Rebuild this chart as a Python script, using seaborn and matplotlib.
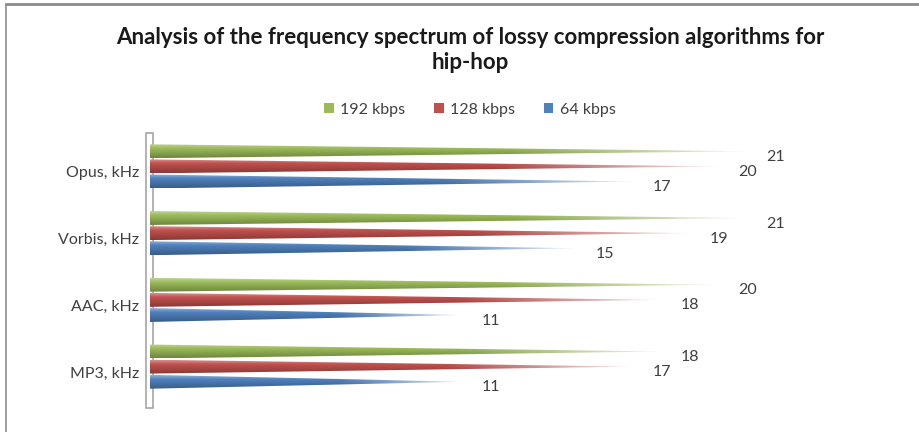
import numpy as np
import pandas as pd
import matplotlib
matplotlib.use("Agg")
import matplotlib.pyplot as plt
import seaborn as sns
from matplotlib.patches import Polygon, Patch, Rectangle
from matplotlib.lines import Line2D
from matplotlib.colors import to_rgb
from matplotlib.transforms import ScaledTranslation

# data
codecs = ["Opus, kHz", "Vorbis, kHz", "AAC, kHz", "MP3, kHz"]
bitrates = ["192 kbps", "128 kbps", "64 kbps"]
khz_192 = [21, 21, 20, 18]
khz_128 = [20, 19, 18, 17]
khz_64 = [17, 15, 11, 11]
colors = ["#9BBB59", "#C0504D", "#4F81BD"]

df = pd.DataFrame({
    "codec": codecs * 3,
    "bitrate": np.repeat(bitrates, len(codecs)),
    "khz": khz_192 + khz_128 + khz_64,
})

sns.set_style("white")
plt.rcParams["font.family"] = ["Lato", "DejaVu Sans"]
txt = "#404040"

fig = plt.figure(figsize=(9.2, 4.32), dpi=100)
ax = fig.add_axes([150 / 920, 1 - 400 / 432, 755 / 920, 267 / 432])

sns.barplot(data=df, x="khz", y="codec", hue="bitrate", order=codecs,
            hue_order=bitrates, palette=colors, orient="h", width=0.68,
            gap=0.08, legend=False, ax=ax)

xlim = (0, 26.5)
ylim = ax.get_ylim()

# turn each flat bar into a shaded cone
for cont, col in zip(ax.containers, colors):
    base = np.array(to_rgb(col))
    for rect in cont:
        w = rect.get_width()
        y0 = rect.get_y()
        h = rect.get_height()
        yc = y0 + h / 2
        rect.set_visible(False)

        t = np.linspace(0, 1, 300)
        s = np.linspace(0, 1, 30)
        img = np.zeros((len(s), len(t), 3))
        for i, sv in enumerate(s):
            if sv < 0.3:
                c = base * 0.65 + 0.35 * (1 - sv / 0.3) + base * 0.35 * (sv / 0.3)
            else:
                c = base * (1 - (sv - 0.3) * 0.4)
            img[i] = c
        fade = np.clip((t - 0.6) / 0.4, 0, 1) ** 1.2 * 0.92
        img = img * (1 - fade[None, :, None]) + fade[None, :, None]

        cone = Polygon([(0, y0), (0, y0 + h), (w, yc)], closed=True,
                       facecolor="none", edgecolor="none", transform=ax.transData)
        ax.add_patch(cone)
        im = ax.imshow(np.clip(img, 0, 1), extent=(0, w, y0 + h, y0),
                       aspect="auto", interpolation="bilinear", zorder=2)
        im.set_clip_path(cone)

        ax.annotate(f"{w:.0f}", (w, yc), xytext=(13, -4), textcoords="offset points",
                    fontsize=11.5, color=txt, va="center", ha="left")

ax.set_xlim(xlim)
ax.set_ylim(ylim)
ax.set_xlabel("")
ax.set_ylabel("")
ax.set_xticks([])
ax.tick_params(axis="y", length=0, pad=8, labelsize=11.5, labelcolor=txt)
shift = ScaledTranslation(0, -4 / 72, fig.dpi_scale_trans)
for lab in ax.get_yticklabels():
    lab.set_transform(lab.get_transform() + shift)
for sp in ax.spines.values():
    sp.set_visible(False)

# thin side wall of the 3D chart
wall = Rectangle((-4 / 755, -8 / 267), 7 / 755, 1 + 8 / 267, transform=ax.transAxes,
                 facecolor="white", edgecolor="#A6A6A6", lw=1.2, clip_on=False, zorder=1)
ax.add_patch(wall)

fig.text(470 / 920, 1 - 50 / 432,
         "Analysis of the frequency spectrum of lossy compression algorithms for\nhip-hop",
         ha="center", va="center", fontsize=16, fontweight="bold", color="#1a1a1a",
         linespacing=1.2)

handles = [Patch(facecolor=c, edgecolor="none") for c in colors]
fig.legend(handles, bitrates, loc="center", bbox_to_anchor=(470 / 920, 1 - 110 / 432),
           ncol=3, frameon=False, handlelength=0.6, handleheight=0.6,
           handletextpad=0.4, columnspacing=1.8, fontsize=11.5, labelcolor=txt)

# chart border
fig.add_artist(Line2D([6 / 920, 6 / 920], [0, 1 - 4 / 432], color="#8c8c8c", lw=1.2,
                      transform=fig.transFigure))
fig.add_artist(Line2D([6 / 920, 1], [1 - 4 / 432, 1 - 4 / 432], color="#8c8c8c", lw=2,
                      transform=fig.transFigure))

fig.savefig("out.png", dpi=100)
